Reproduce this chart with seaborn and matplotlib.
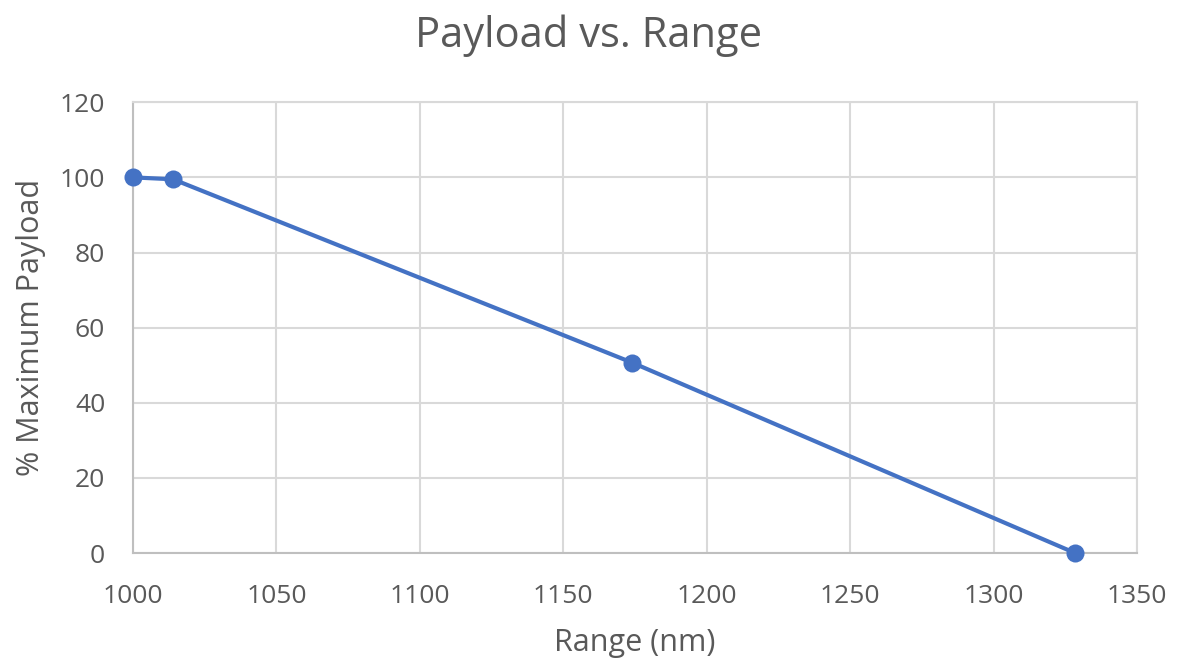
import numpy as np
import pandas as pd
import matplotlib
matplotlib.use("Agg")
import matplotlib.pyplot as plt
import seaborn as sns

# data
range_nm    = [1000, 1014, 1174, 1328.5]
payload_pct = [100, 99.5, 50.7, 0]

LINE_COLOR = "#4472C4"
GRID_COLOR = "#D9D9D9"
TEXT_COLOR = "#595959"

sns.set_theme(style="whitegrid")
plt.rcParams["font.family"] = ["Open Sans", "DejaVu Sans"]

df = pd.DataFrame({"Range (nm)": range_nm, "% Maximum Payload": payload_pct})

fig = plt.figure(figsize=(11.77, 6.64), dpi=100)
ax = fig.add_axes([0.113, 0.167, 0.853, 0.679])

sns.lineplot(data=df, x="Range (nm)", y="% Maximum Payload", ax=ax,
             color=LINE_COLOR, linewidth=3, marker="o", markersize=13,
             markeredgewidth=0, clip_on=False, zorder=3)

ax.set_xlim(1000, 1350)
ax.set_ylim(0, 120)
ax.set_xticks(np.arange(1000, 1351, 50))
ax.set_yticks(np.arange(0, 121, 20))

ax.grid(True, color=GRID_COLOR, linewidth=1.5)
for side, sp in ax.spines.items():
    sp.set_visible(True)
    sp.set_color(GRID_COLOR)
    sp.set_linewidth(1.5)
ax.spines["left"].set_color("#BFBFBF")
ax.spines["bottom"].set_color("#BFBFBF")

ax.tick_params(axis="both", labelsize=19, colors=TEXT_COLOR, length=0)
ax.tick_params(axis="x", pad=22)
ax.tick_params(axis="y", pad=20)
ax.set_xlabel("Range (nm)", fontsize=22, color=TEXT_COLOR, labelpad=14)
ax.set_ylabel("% Maximum Payload", fontsize=22, color=TEXT_COLOR, labelpad=10)
fig.suptitle("Payload vs. Range", fontsize=30, color=TEXT_COLOR, y=0.978)

fig.savefig("out.png", dpi=100)
